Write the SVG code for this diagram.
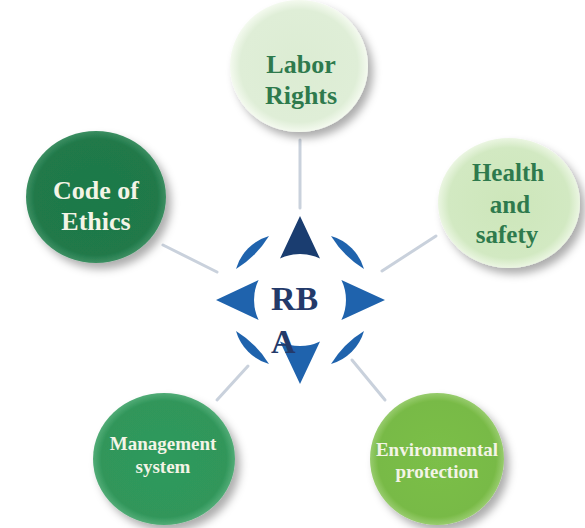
<svg xmlns="http://www.w3.org/2000/svg" width="585" height="528" viewBox="0 0 585 528">
<defs>
<filter id="sh" x="-30%" y="-30%" width="160%" height="160%">
<feDropShadow dx="5" dy="6" stdDeviation="4" flood-color="#000" flood-opacity="0.32"/>
</filter>
<radialGradient id="gLabor" cx="50%" cy="50%" r="50%">
<stop offset="0" stop-color="#dcecd3"/><stop offset="0.85" stop-color="#dfeed7"/><stop offset="1" stop-color="#f4faef"/>
</radialGradient>
<radialGradient id="gHealth" cx="50%" cy="50%" r="50%">
<stop offset="0" stop-color="#cde6ba"/><stop offset="0.85" stop-color="#d2e9c2"/><stop offset="1" stop-color="#ebf6e2"/>
</radialGradient>
<radialGradient id="gCode" cx="50%" cy="50%" r="50%">
<stop offset="0" stop-color="#1e7a48"/><stop offset="0.88" stop-color="#20794a"/><stop offset="1" stop-color="#3c8f62"/>
</radialGradient>
<radialGradient id="gMgmt" cx="50%" cy="50%" r="50%">
<stop offset="0" stop-color="#2e9a5c"/><stop offset="0.88" stop-color="#30965a"/><stop offset="1" stop-color="#52ac77"/>
</radialGradient>
<radialGradient id="gEnv" cx="50%" cy="50%" r="50%">
<stop offset="0" stop-color="#7bbf48"/><stop offset="0.88" stop-color="#78ba46"/><stop offset="1" stop-color="#98cc6e"/>
</radialGradient>
</defs>
<style>
.conn line{stroke:#c9d1dc;stroke-width:3;stroke-linecap:round}
.t{font-family:"Liberation Serif","Times New Roman",serif;font-weight:bold;text-anchor:middle}
.dk{fill:#2e7a4d}
.lt{fill:#f3f4e6}
.blue{fill:#1f63ad}
.navy{fill:#1a3d70}
.rba{font-family:"Liberation Serif","Times New Roman",serif;font-weight:bold;font-size:34px;fill:#233a6a}
</style>
<g id="connectors" class="conn">
<line x1="300" y1="140" x2="300" y2="208"/>
<line x1="163" y1="245" x2="217" y2="272"/>
<line x1="436" y1="236" x2="382" y2="271"/>
<line x1="217" y1="400" x2="248" y2="366"/>
<line x1="352" y1="360" x2="385" y2="400"/>
</g>
<g id="rba">
<path class="navy" d="M300,216 L320,258.6 A46,46 0 0 0 280,258.6 Z"/>
<path class="blue" d="M300,384 L280,341.4 A46,46 0 0 0 320,341.4 Z"/>
<path class="blue" d="M216,300 L258.6,280 A46,46 0 0 0 258.6,320 Z"/>
<path class="blue" d="M385,300 L341.4,320 A46,46 0 0 0 341.4,280 Z"/>
<g transform="translate(300,300)">
<path class="blue" id="lens" d="M-64,-31 A48,48 0 0 1 -31,-64 A100,100 0 0 1 -64,-31 Z"/>
<use href="#lens" transform="rotate(90)"/>
<use href="#lens" transform="rotate(180)"/>
<use href="#lens" transform="rotate(270)"/>
</g>
<text class="rba" x="271" y="310">RB</text>
<text class="rba" x="271" y="353">A</text>
</g>
<g id="labor">
<ellipse cx="299" cy="66" rx="69" ry="66" fill="url(#gLabor)" filter="url(#sh)"/>
<text class="t dk" x="301" y="73" font-size="26">Labor</text>
<text class="t dk" x="301" y="104" font-size="26">Rights</text>
</g>
<g id="health">
<ellipse cx="509" cy="203" rx="71" ry="65" fill="url(#gHealth)" filter="url(#sh)"/>
<text class="t dk" x="508" y="181" font-size="25">Health</text>
<text class="t dk" x="510" y="213" font-size="25">and</text>
<text class="t dk" x="507" y="243" font-size="25">safety</text>
</g>
<g id="code">
<ellipse cx="96" cy="197" rx="70" ry="66" fill="url(#gCode)" filter="url(#sh)"/>
<text class="t lt" x="96" y="199" font-size="26">Code of</text>
<text class="t lt" x="96" y="230" font-size="26">Ethics</text>
</g>
<g id="mgmt">
<ellipse cx="164" cy="459" rx="71" ry="66" fill="url(#gMgmt)" filter="url(#sh)"/>
<text class="t lt" x="163" y="450" font-size="19">Management</text>
<text class="t lt" x="163" y="473" font-size="19">system</text>
</g>
<g id="env">
<ellipse cx="437" cy="459" rx="67" ry="66" fill="url(#gEnv)" filter="url(#sh)"/>
<text class="t lt" x="437" y="456" font-size="19">Environmental</text>
<text class="t lt" x="437" y="478" font-size="19">protection</text>
</g>
</svg>
